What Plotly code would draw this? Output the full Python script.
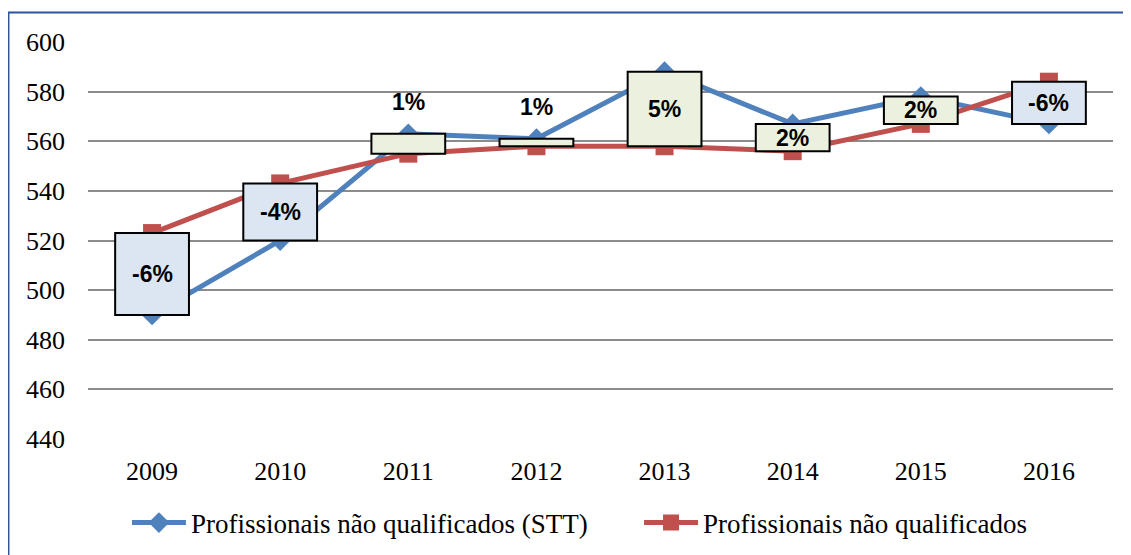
import plotly.graph_objects as go

years = ['2009', '2010', '2011', '2012', '2013', '2014', '2015', '2016']
stt = [490, 520, 563, 561, 588, 567, 578, 567]
nq = [523, 543, 555, 558, 558, 556, 567, 584]
pct_labels = ['-6%', '-4%', '1%', '1%', '5%', '2%', '2%', '-6%']

BLUE = '#4F81BD'
RED = '#C0504D'
UP_FILL = '#EBF1DE'
DOWN_FILL = '#DCE6F2'
SERIF = 'Times New Roman'
SANS = 'Arial'

idx = list(range(len(years)))
lo = [min(a, b) for a, b in zip(stt, nq)]
hi = [max(a, b) for a, b in zip(stt, nq)]
diff = [h - l for h, l in zip(hi, lo)]
fills = [UP_FILL if a > b else DOWN_FILL for a, b in zip(stt, nq)]

fig = go.Figure()

fig.add_trace(go.Scatter(
    x=idx, y=stt, mode='lines+markers', name='Profissionais não qualificados (STT)',
    line=dict(color=BLUE, width=5),
    marker=dict(symbol='diamond', size=16, color=BLUE),
    legend='legend',
))
fig.add_trace(go.Scatter(
    x=idx, y=nq, mode='lines+markers', name='Profissionais não qualificados',
    line=dict(color=RED, width=5),
    marker=dict(symbol='square', size=18, color=RED),
    legend='legend2',
))

# up-down bars drawn above the lines on an overlaying axis
fig.add_trace(go.Bar(
    x=idx, y=diff, base=lo, width=0.576, yaxis='y2',
    marker=dict(color=fills, line=dict(color='black', width=2)),
    showlegend=False, hoverinfo='skip',
))

annotations = []
for i, l, h, txt in zip(idx, lo, hi, pct_labels):
    small = (h - l) < 10
    annotations.append(dict(
        x=i, xref='x', y=(h if small else (h + l) / 2), yref='y', text='<b>%s</b>' % txt,
        showarrow=False, yanchor='middle', yshift=(32 if small else 0),
        font=dict(family=SANS, size=23, color='black')))

legend_common = dict(orientation='h', y=-0.2116, yanchor='middle', xanchor='left',
                     font=dict(family=SERIF, size=27), itemwidth=54,
                     bgcolor='rgba(0,0,0,0)')

# the page body has an 8px margin: figure is 1123x547, placed at (8, 8)
fig.update_layout(
    width=1123, height=547,
    margin=dict(l=80, r=18, t=34, b=116, autoexpand=False),
    paper_bgcolor='white', plot_bgcolor='white',
    font=dict(family=SERIF, size=26, color='black'),
    xaxis=dict(range=[-0.5, 7.5], tickvals=idx, ticktext=years, showgrid=False,
               showline=False, zeroline=False, ticks='', ticklabelstandoff=14,
               tickfont=dict(family=SERIF, size=26)),
    yaxis=dict(range=[440, 600], dtick=20, showgrid=True, gridcolor='#8C8C8C', gridwidth=1.5,
               zeroline=False, showline=False, ticks='', ticklabelstandoff=22,
               tickfont=dict(family=SERIF, size=26)),
    yaxis2=dict(range=[440, 600], overlaying='y', showgrid=False, showticklabels=False,
                zeroline=False, showline=False),
    legend=dict(x=0.038, **legend_common),
    legend2=dict(x=0.5376, **legend_common),
    annotations=annotations,
    shapes=[dict(type='rect', xref='paper', yref='paper', x0=-0.0776, x1=1.05,
                 y0=-0.35, y1=1.074, line=dict(color='#2E5597', width=2),
                 fillcolor='rgba(0,0,0,0)', layer='below')],
    showlegend=True,
)

fig.write_html('out.html')
